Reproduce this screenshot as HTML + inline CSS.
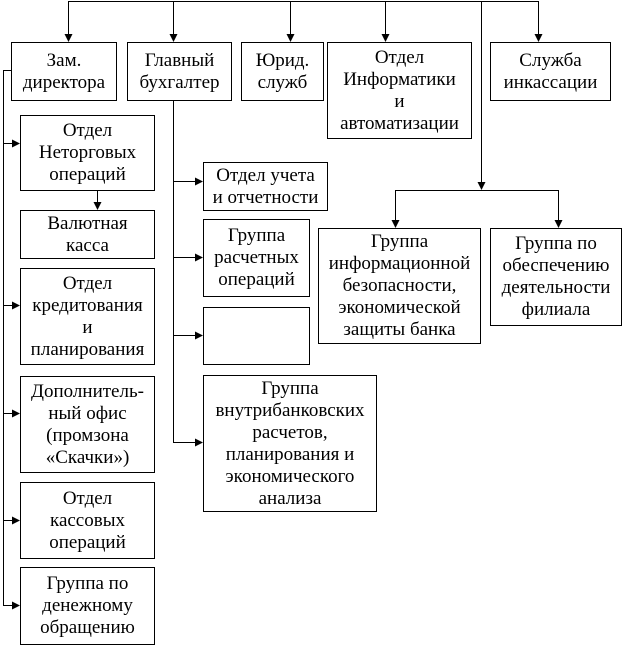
<!DOCTYPE html>
<html><head><meta charset="utf-8"><style>
body{margin:0;width:628px;height:648px;background:#fff;position:relative;overflow:hidden;font-family:"Liberation Serif",serif;}
.b{position:absolute;border:1px solid #000;box-sizing:border-box;display:flex;align-items:center;justify-content:center;text-align:center;font-size:19px;line-height:22px;color:#000;background:#fff;white-space:nowrap;}
svg{position:absolute;left:0;top:0;}
</style></head><body>
<svg width="628" height="648">
<defs><marker id="a" markerWidth="8" markerHeight="8" refX="7" refY="4" orient="auto" markerUnits="userSpaceOnUse"><path d="M0,0 L8,4 L0,8 z" fill="#000"/></marker></defs>
<g stroke="#000" stroke-width="1" fill="none">
<line x1="68" y1="1.5" x2="538" y2="1.5"/>
<line x1="68.5" y1="1" x2="68.5" y2="41" marker-end="url(#a)"/>
<line x1="173.5" y1="1" x2="173.5" y2="41" marker-end="url(#a)"/>
<line x1="290.5" y1="1" x2="290.5" y2="41" marker-end="url(#a)"/>
<line x1="385.5" y1="1" x2="385.5" y2="41" marker-end="url(#a)"/>
<line x1="538.5" y1="1" x2="538.5" y2="41" marker-end="url(#a)"/>
<line x1="481.5" y1="1" x2="481.5" y2="189" marker-end="url(#a)"/>
<line x1="395" y1="190.5" x2="558" y2="190.5"/>
<line x1="395.5" y1="190" x2="395.5" y2="227" marker-end="url(#a)"/>
<line x1="558.5" y1="190" x2="558.5" y2="227" marker-end="url(#a)"/>
<line x1="11" y1="70.5" x2="3" y2="70.5"/>
<line x1="3.5" y1="70" x2="3.5" y2="605"/>
<line x1="3" y1="143.5" x2="19" y2="143.5" marker-end="url(#a)"/>
<line x1="3" y1="305.5" x2="19" y2="305.5" marker-end="url(#a)"/>
<line x1="3" y1="413.5" x2="19" y2="413.5" marker-end="url(#a)"/>
<line x1="3" y1="520.5" x2="19" y2="520.5" marker-end="url(#a)"/>
<line x1="3" y1="605.5" x2="19" y2="605.5" marker-end="url(#a)"/>
<line x1="97.5" y1="190" x2="97.5" y2="209" marker-end="url(#a)"/>
<line x1="173.5" y1="100" x2="173.5" y2="442"/>
<line x1="173" y1="181.5" x2="202" y2="181.5" marker-end="url(#a)"/>
<line x1="173" y1="257.5" x2="202" y2="257.5" marker-end="url(#a)"/>
<line x1="173" y1="335.5" x2="202" y2="335.5" marker-end="url(#a)"/>
<line x1="173" y1="442.5" x2="202" y2="442.5" marker-end="url(#a)"/>
</g></svg>
<div class="b" style="left:11px;top:42px;width:106px;height:59px">Зам.<br>директора</div>
<div class="b" style="left:127px;top:42px;width:105px;height:59px">Главный<br>бухгалтер</div>
<div class="b" style="left:241px;top:42px;width:83px;height:59px">Юрид.<br>служб</div>
<div class="b" style="left:327px;top:42px;width:145px;height:97px">Отдел<br>Информатики<br>и<br>автоматизации</div>
<div class="b" style="left:490px;top:42px;width:121px;height:59px">Служба<br>инкассации</div>
<div class="b" style="left:20px;top:115px;width:135px;height:76px">Отдел<br>Неторговых<br>операций</div>
<div class="b" style="left:20px;top:210px;width:135px;height:49px">Валютная<br>касса</div>
<div class="b" style="left:20px;top:268px;width:135px;height:97px">Отдел<br>кредитования<br>и<br>планирования</div>
<div class="b" style="left:20px;top:376px;width:135px;height:97px">Дополнитель-<br>ный офис<br>(промзона<br>«Скачки»)</div>
<div class="b" style="left:20px;top:482px;width:135px;height:77px">Отдел<br>кассовых<br>операций</div>
<div class="b" style="left:20px;top:567px;width:135px;height:78px">Группа по<br>денежному<br>обращению</div>
<div class="b" style="left:203px;top:162px;width:125px;height:49px">Отдел учета<br>и отчетности</div>
<div class="b" style="left:203px;top:219px;width:107px;height:78px">Группа<br>расчетных<br>операций</div>
<div class="b" style="left:203px;top:307px;width:107px;height:58px"></div>
<div class="b" style="left:203px;top:375px;width:174px;height:137px">Группа<br>внутрибанковских<br>расчетов,<br>планирования и<br>экономического<br>анализа</div>
<div class="b" style="left:318px;top:228px;width:163px;height:116px">Группа<br>информационной<br>безопасности,<br>экономической<br>защиты банка</div>
<div class="b" style="left:490px;top:228px;width:132px;height:98px">Группа по<br>обеспечению<br>деятельности<br>филиала</div>
</body></html>
